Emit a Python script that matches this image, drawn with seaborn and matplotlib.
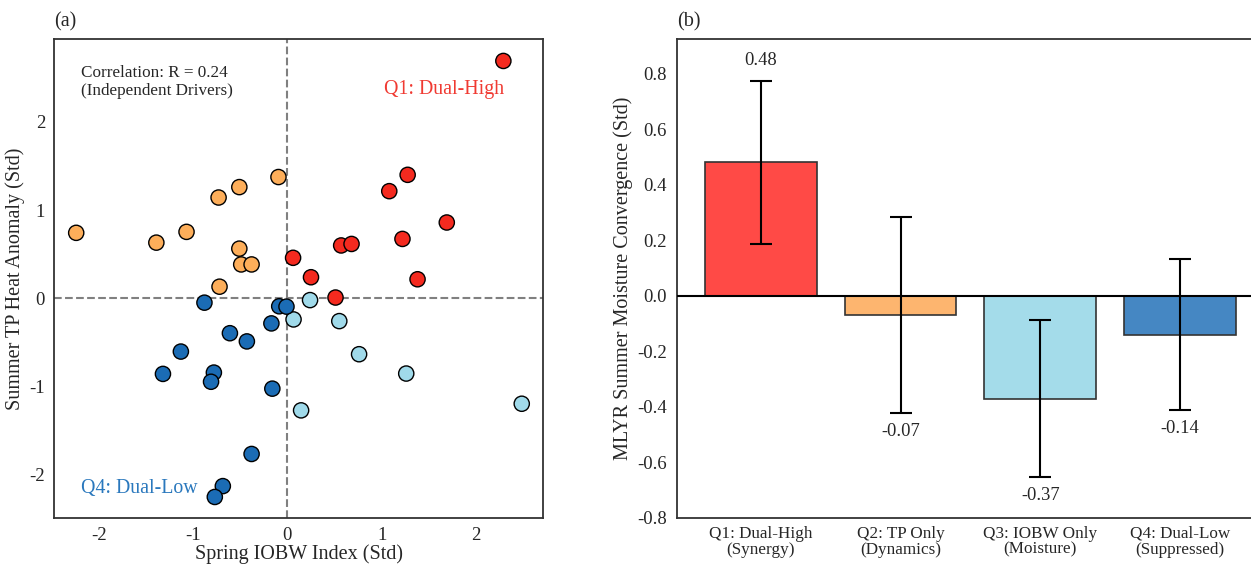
import numpy as np
import pandas as pd
import matplotlib
matplotlib.use('Agg')
import matplotlib.pyplot as plt
import seaborn as sns

sns.set_style('white')
plt.rcParams['font.family'] = ['Liberation Serif', 'DejaVu Serif']
plt.rcParams['axes.unicode_minus'] = False

# panel (a): Spring IOBW index vs summer TP heat anomaly, by quadrant
q1_x = [2.29, 1.275, 1.08, 1.69, 1.22, 0.57, 0.68, 0.06, 0.25, 1.38, 0.51]
q1_y = [2.69, 1.40, 1.215, 0.86, 0.674, 0.60, 0.617, 0.46, 0.24, 0.217, 0.01]
q2_x = [-2.24, -1.39, -1.07, -0.73, -0.51, -0.095, -0.51, -0.49, -0.38, -0.72]
q2_y = [0.743, 0.632, 0.754, 1.143, 1.261, 1.375, 0.564, 0.385, 0.385, 0.133]
q3_x = [0.24, 0.065, 0.55, 0.76, 1.26, 0.145, 2.485]
q3_y = [-0.019, -0.238, -0.257, -0.632, -0.851, -1.268, -1.193]
q4_x = [-0.88, -0.087, -0.01, -0.17, -0.61, -0.43, -1.13, -1.32, -0.78, -0.81,
        -0.16, -0.38, -0.685, -0.77]
q4_y = [-0.048, -0.089, -0.093, -0.283, -0.394, -0.487, -0.602, -0.855, -0.840,
        -0.944, -1.022, -1.762, -2.126, -2.249]
corr_r = 0.24

# panel (b): composite moisture convergence per quadrant
bar_labels = ['Q1: Dual-High\n(Synergy)', 'Q2: TP Only\n(Dynamics)',
              'Q3: IOBW Only\n(Moisture)', 'Q4: Dual-Low\n(Suppressed)']
bar_means = [0.48, -0.07, -0.37, -0.14]
bar_errs = [0.293, 0.352, 0.282, 0.272]
bar_yticks = [-0.8, -0.6, -0.4, -0.2, 0.0, 0.2, 0.4, 0.6, 0.8]

point_colors = {'Q1': '#f42a1f', 'Q2': '#fdae5a', 'Q3': '#a0daea', 'Q4': '#1b6cb5'}
bar_colors = ['#ff4a46', '#fdb56f', '#a4dcea', '#4587c3']

df = pd.concat([
    pd.DataFrame({'x': q1_x, 'y': q1_y, 'quad': 'Q1'}),
    pd.DataFrame({'x': q2_x, 'y': q2_y, 'quad': 'Q2'}),
    pd.DataFrame({'x': q3_x, 'y': q3_y, 'quad': 'Q3'}),
    pd.DataFrame({'x': q4_x, 'y': q4_y, 'quad': 'Q4'}),
], ignore_index=True)

fig = plt.figure(figsize=(12.51, 5.64), dpi=100)
ax1 = fig.add_axes([0.0432, 0.0816, 0.3909, 0.849])
ax2 = fig.add_axes([0.5412, 0.0816, 0.469, 0.849])

spine_col = '#333333'

# ---- (a) scatter
ax1.axhline(0, color='#808080', ls='--', lw=1.5, zorder=1)
ax1.axvline(0, color='#808080', ls='--', lw=1.5, zorder=1)
sns.scatterplot(data=df, x='x', y='y', hue='quad', palette=point_colors,
                s=120, edgecolor='black', linewidth=1.0, legend=False,
                zorder=3, ax=ax1)
ax1.set_xlim(-2.475, 2.711)
ax1.set_ylim(-2.487, 2.937)
ax1.set_xticks([-2, -1, 0, 1, 2])
ax1.set_yticks([-2, -1, 0, 1, 2])
ax1.set_xlabel('Spring IOBW Index (Std)', fontsize=14.5, labelpad=0)
ax1.set_ylabel('Summer TP Heat Anomaly (Std)', fontsize=14.5, labelpad=3)
ax1.tick_params(labelsize=13.5, pad=3)
ax1.text(0.055, 0.945, f'Correlation: R = {corr_r:.2f}\n(Independent Drivers)',
         transform=ax1.transAxes, fontsize=12.3, va='top', ha='left',
         linespacing=1.1)
ax1.text(0.92, 0.895, 'Q1: Dual-High', transform=ax1.transAxes, fontsize=14.3,
         color='#f03a32', ha='right', va='center')
ax1.text(0.055, 0.062, 'Q4: Dual-Low', transform=ax1.transAxes, fontsize=14.3,
         color='#2a78bd', ha='left', va='center')
ax1.text(0.0, 1.015, '(a)', transform=ax1.transAxes, fontsize=14.5,
         ha='left', va='bottom')

# ---- (b) bars
sns.barplot(x=bar_labels, y=bar_means, hue=bar_labels, palette=bar_colors,
            width=0.8, edgecolor=spine_col, linewidth=1.2, legend=False,
            saturation=1, ax=ax2)
ax2.errorbar(range(len(bar_means)), bar_means, yerr=bar_errs, fmt='none',
             ecolor='black', elinewidth=1.5, capsize=8, capthick=1.5, zorder=4)
ax2.axhline(0, color='black', lw=1.5, zorder=3)
for i, (m, e) in enumerate(zip(bar_means, bar_errs)):
    if m >= 0:
        ax2.text(i, m + e + 0.045, f'{m:.2f}', ha='center', va='bottom', fontsize=13.3)
    else:
        ax2.text(i, m - e - 0.035, f'{m:.2f}', ha='center', va='top', fontsize=13.3)
ax2.set_xlim(-0.6, 3.6)
ax2.set_ylim(-0.8, 0.924)
ax2.set_yticks(bar_yticks)
ax2.set_yticklabels([f'{t:.1f}' for t in bar_yticks])
ax2.set_ylabel('MLYR Summer Moisture Convergence (Std)', fontsize=14.5, labelpad=3)
ax2.tick_params(axis='y', labelsize=13.5, pad=4)
ax2.tick_params(axis='x', labelsize=12.3, pad=2)
for lab in ax2.get_xticklabels():
    lab.set_linespacing(1.0)
ax2.text(0.0, 1.015, '(b)', transform=ax2.transAxes, fontsize=14.5,
         ha='left', va='bottom')

for ax in (ax1, ax2):
    for sp in ax.spines.values():
        sp.set_color(spine_col)
        sp.set_linewidth(1.3)

fig.savefig('out.png', dpi=100)
